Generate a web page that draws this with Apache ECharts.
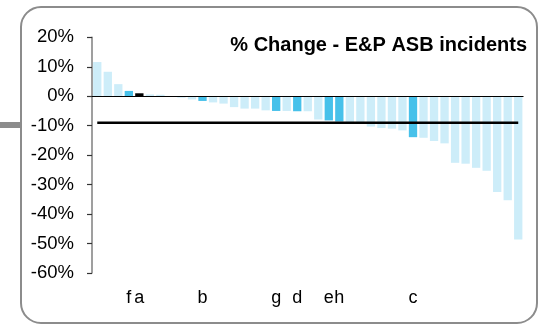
<!DOCTYPE html>
<html>
<head>
<meta charset="utf-8">
<script src="https://cdn.jsdelivr.net/npm/echarts@6/dist/echarts.min.js"></script>
<style>html,body{margin:0;padding:0;background:#fff}#c{width:539px;height:325px}</style>
</head>
<body>
<div id="c"></div>
<script>
const categories = ['', '', '', 'f', 'a', '', '', '', '', '', 'b', '', '', '', '', '', '', 'g', '', 'd', '', '', 'e', 'h', '', '', '', '', '', '', 'c', '', '', '', '', '', '', '', '', '', ''];
const changes = [11.6, 8.3, 4.1, 1.8, 1.0, 0.6, 0.5, 0.0, -0.5, -1.1, -1.6, -2.1, -2.5, -3.7, -4.2, -4.2, -4.8, -5.0, -5.0, -5.1, -5.1, -7.9, -8.2, -8.6, -9.0, -9.1, -10.3, -10.8, -11.0, -11.6, -13.9, -14.1, -15.2, -16.0, -22.6, -22.9, -24.3, -25.3, -32.5, -35.3, -48.6];
const averageChange = -9;
const highlighted = ['f', 'b', 'g', 'd', 'e', 'h', 'c'];
const reference = 'a';
const yTicks = [-60, -50, -40, -30, -20, -10, 0, 10, 20];
const titleText = '% Change - E&P ASB incidents';

const FONT = '"Liberation Sans", Arial, sans-serif';
const chart = echarts.init(document.getElementById('c'), null, {renderer: 'canvas'});

const barData = changes.map((v, i) => {
  const c = categories[i];
  let color = '#cdedf9';
  if (c === reference) color = '#000000';
  else if (highlighted.includes(c)) color = '#47c1ea';
  return {value: v, itemStyle: {color: color}};
});

chart.setOption({
  animation: false,
  grid: {left: 92, right: 15.5, top: 37.3, bottom: 52},
  xAxis: {
    type: 'category',
    data: categories,
    axisLine: {show: false},
    axisTick: {show: false},
    axisLabel: {interval: 0, margin: 16, fontSize: 18, color: '#000', fontFamily: FONT}
  },
  yAxis: {
    type: 'value',
    min: yTicks[0],
    max: yTicks[yTicks.length - 1],
    interval: 10,
    axisLine: {show: true, lineStyle: {color: '#7f7f7f', width: 1.5}},
    axisTick: {show: true, inside: false, length: 5, lineStyle: {color: '#333', width: 1.2}},
    splitLine: {show: false},
    axisLabel: {margin: 18, fontSize: 18.5, color: '#000', fontFamily: FONT, formatter: '{value}%'}
  },
  series: [
    {
      type: 'bar',
      data: barData,
      barCategoryGap: '21%',
      markLine: {
        silent: true,
        symbol: 'none',
        label: {show: false},
        lineStyle: {color: '#000', width: 1.2, type: 'solid'},
        data: [{yAxis: 0}]
      }
    },
    {
      type: 'line',
      data: changes.map(() => averageChange),
      symbol: 'none',
      lineStyle: {color: '#000', width: 2.5},
      z: 5
    }
  ],
  graphic: [
    {type: 'rect', shape: {x: 21, y: 7, width: 516, height: 316, r: 20}, style: {fill: 'none', stroke: '#8c8c8c', lineWidth: 2}, z: 100},
    {type: 'rect', shape: {x: 0, y: 122, width: 20, height: 6}, style: {fill: '#8c8c8c'}, z: 100},
    {type: 'text', x: 527, y: 45, style: {text: titleText, textAlign: 'right', textVerticalAlign: 'middle', font: 'bold 20px ' + FONT, fill: '#000'}, z: 100}
  ]
});
</script>
</body>
</html>
